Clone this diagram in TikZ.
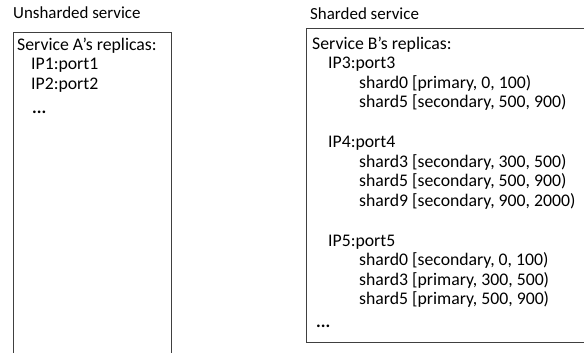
\documentclass[tikz,border=0pt]{standalone}
\usepackage{fontspec}
\setmainfont{Carlito}
\begin{document}
\begin{tikzpicture}[x=1bp,y=-1bp,
  txt/.style={anchor=base west,inner sep=0pt,font=\fontsize{17.8}{20}\selectfont},
  head/.style={anchor=base west,inner sep=0pt,font=\fontsize{17}{20}\selectfont},
  frame/.style={draw=black!75,line width=1bp}]
\useasboundingbox (0,0) rectangle (584,352);
% headers
\node[head] (hA) at (13,18) {Unsharded service};
\node[head] (hB) at (310,19) {Sharded service};
% boxes
\draw[frame] (13,32) rectangle (171,360);
\draw[frame] (306,28) rectangle (600,342);
% left box
\node[txt] (a0) at (17,50) {Service A’s replicas:};
\node[txt] (a1) at (31,69.5) {IP1:port1};
\node[txt] (a2) at (31,89) {IP2:port2};
\node[txt] (a3) at (32,113) {\textbf{...}};
% right box
\node[txt] (b0) at (312,49) {Service B’s replicas:};
\node[txt] (b1) at (328,68.5) {IP3:port3};
\node[txt] (b2) at (359,88) {shard0 [primary, 0, 100)};
\node[txt] (b3) at (359,107.5) {shard5 [secondary, 500, 900)};
\node[txt] (b4) at (328,147.5) {IP4:port4};
\node[txt] (b5) at (359,167) {shard3 [secondary, 300, 500)};
\node[txt] (b6) at (359,186.5) {shard5 [secondary, 500, 900)};
\node[txt] (b7) at (359,206) {shard9 [secondary, 900, 2000)};
\node[txt] (b8) at (328,246) {IP5:port5};
\node[txt] (b9) at (359,265.5) {shard0 [secondary, 0, 100)};
\node[txt] (b10) at (359,285) {shard3 [primary, 300, 500)};
\node[txt] (b11) at (359,304.5) {shard5 [primary, 500, 900)};
\node[txt] (b12) at (316,327) {\textbf{...}};
\end{tikzpicture}
\end{document}
